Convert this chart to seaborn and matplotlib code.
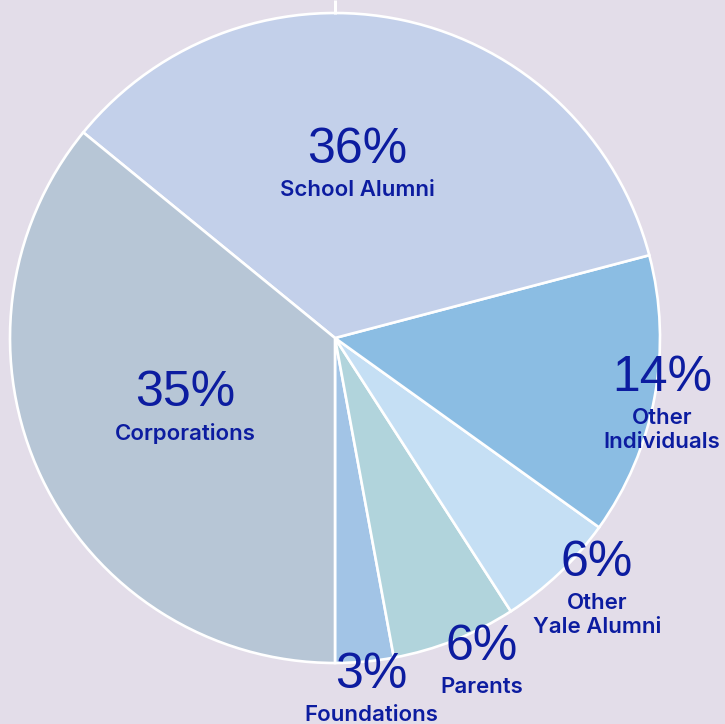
import matplotlib
matplotlib.use("Agg")
import matplotlib.pyplot as plt
import seaborn as sns

# Wedge shares as drawn (counter-clockwise from 6 o'clock)
categories = ["Foundations", "Parents", "Other\nYale Alumni", "Other\nIndividuals",
              "School Alumni", "Corporations"]
shares = [2.9, 6.2, 6.0, 14.0, 35.0, 35.9]
pct_labels = ["3%", "6%", "6%", "14%", "36%", "35%"]
colors = ["#a2c4e6", "#b1d4dc", "#c5dff4", "#8bbde3", "#c3d0ea", "#b7c6d6"]

# label anchor points in pixels (x, y from top)
label_pos = [(371, 675), (482, 647), (597, 563), (662, 378), (357, 150), (185, 393)]

bg = "#e3dde9"
text_col = "#0c1ca0"

sns.set_theme(style="white")
plt.rcParams["font.family"] = ["Inter", "DejaVu Sans"]

W, H = 725, 724
fig = plt.figure(figsize=(W / 100, H / 100), dpi=100, facecolor=bg)
ax = fig.add_axes([0, 0, 1, 1])
ax.set_facecolor(bg)

cx, cy, r = 335, H - 338, 325

# thin white divider above the pie
ax.plot([cx, cx], [H - 14, H], color="white", lw=2.2, solid_capstyle="butt")

ax.pie(shares, colors=colors, startangle=-90, counterclock=True,
       center=(cx, cy), radius=r, frame=True,
       wedgeprops=dict(edgecolor="white", linewidth=1.9))

for pct, cat, (x, y) in zip(pct_labels, categories, label_pos):
    ax.text(x, H - y, pct, ha="center", va="center", fontsize=36,
            color=text_col, family=["Liberation Sans", "DejaVu Sans"])
    ax.text(x, H - y - 30, cat, ha="center", va="top", fontsize=16,
            color=text_col, fontweight="semibold", linespacing=1.28)

ax.set_xlim(0, W)
ax.set_ylim(0, H)
ax.set_aspect("equal")
ax.axis("off")

fig.savefig("out.png", dpi=100, facecolor=bg)
